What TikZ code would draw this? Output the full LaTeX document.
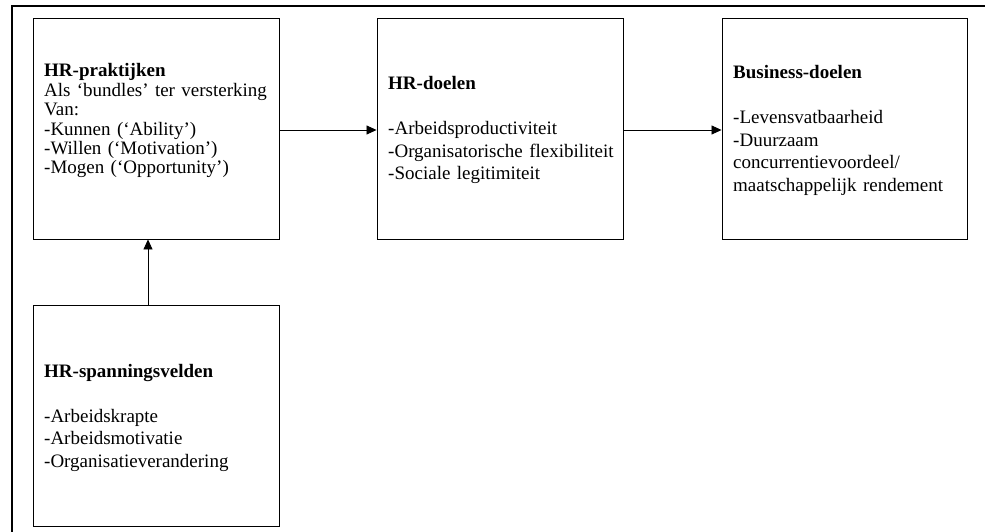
\documentclass[tikz,border=0pt]{standalone}
\usepackage{fontspec}
\setmainfont{Liberation Serif}
\usetikzlibrary{arrows.meta}
\begin{document}
\begin{tikzpicture}[x=1pt,y=-1pt,
  box/.style={draw, line width=0.9pt, minimum width=246pt, minimum height=221pt, inner sep=0pt},
  txt/.style={anchor=base west, inner sep=0pt, text width=235pt, align=left, font=\fontsize{19}{22.5}\selectfont},
  txtA/.style={txt, font=\fontsize{19}{19.4}\selectfont},
  arr/.style={line width=0.8pt, -{Triangle[length=10pt,width=9pt]}},
  frameline/.style={line width=2.2pt}]
\useasboundingbox (0,0) rectangle (985,532);
% outer frame (top and left edges)
\coordinate (fbl) at (12,532);
\coordinate (ftl) at (12,6);
\coordinate (ftr) at (985,6);
\draw[frameline] (fbl) -- (ftl) -- (ftr);
% boxes
\node[box] (b1) at (156,128.5) {};
\node[box] (b2) at (500,128.5) {};
\node[box, minimum width=245pt] (b3) at (844.5,128.5) {};
\node[box] (b4) at (156,415.5) {};
% texts
\node[txtA] (t1) at (44,77) {\textbf{HR-praktijken}\\Als ‘bundles’ ter versterking\\Van:\\-Kunnen (‘Ability’)\\-Willen (‘Motivation’)\\-Mogen (‘Opportunity’)};
\node[txt] (t2) at (388,90) {\textbf{HR-doelen}\\[22.5pt]-Arbeidsproductiviteit\\-Organisatorische flexibiliteit\\-Sociale legitimiteit};
\node[txt] (t3) at (733,79) {\textbf{Business-doelen}\\[22.5pt]-Levensvatbaarheid\\-Duurzaam\\concurrentievoordeel/\\maatschappelijk rendement};
\node[txt] (t4) at (44,377) {\textbf{HR-spanningsvelden}\\[22.5pt]-Arbeidskrapte\\-Arbeidsmotivatie\\-Organisatieverandering};
% connectors
\draw[arr] ([yshift=-1.5pt]b1.east) -- ([yshift=-1.5pt]b2.west);
\draw[arr] ([yshift=-1.5pt]b2.east) -- ([yshift=-1.5pt]b3.west);
\draw[arr] ([xshift=-8pt]b4.north) -- ([xshift=-8pt]b1.south);
\end{tikzpicture}
\end{document}
